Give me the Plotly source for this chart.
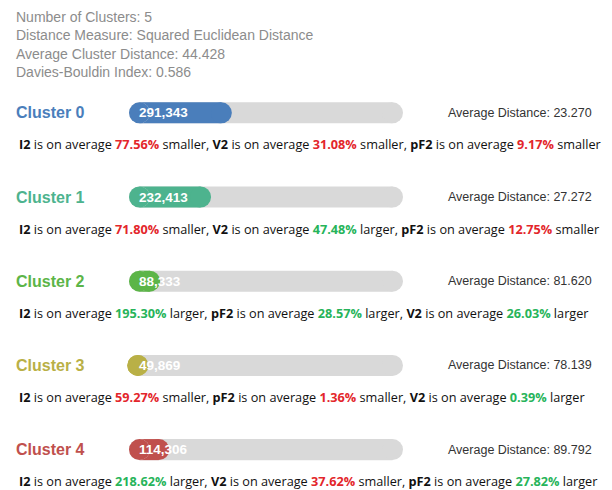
import plotly.graph_objects as go

# ---- data ----
summary_lines = [
    "Number of Clusters: 5",
    "Distance Measure: Squared Euclidean Distance",
    "Average Cluster Distance: 44.428",
    "Davies-Bouldin Index: 0.586",
]
cluster_names = ["Cluster 0", "Cluster 1", "Cluster 2", "Cluster 3", "Cluster 4"]
cluster_sizes = [291343, 232413, 88333, 49869, 114306]
avg_distances = ["23.270", "27.272", "81.620", "78.139", "89.792"]
cluster_colors = ["#4a7ebb", "#4db38e", "#5cb548", "#b9b046", "#c0504d"]

feat_names = [
    ["I2", "V2", "pF2"],
    ["I2", "V2", "pF2"],
    ["I2", "pF2", "V2"],
    ["I2", "pF2", "V2"],
    ["I2", "V2", "pF2"],
]
feat_pcts = [
    ["77.56", "31.08", "9.17"],
    ["71.80", "47.48", "12.75"],
    ["195.30", "28.57", "26.03"],
    ["59.27", "1.36", "0.39"],
    ["218.62", "37.62", "27.82"],
]
feat_dirs = [
    ["smaller", "smaller", "smaller"],
    ["smaller", "larger", "smaller"],
    ["larger", "larger", "larger"],
    ["smaller", "smaller", "larger"],
    ["larger", "smaller", "larger"],
]

total = sum(cluster_sizes)
rows = list(range(len(cluster_names)))

RED = "#e3262b"
GREEN = "#27b45a"
TRACK = "#d9d9d9"

# geometry of the track (pixels) used to convert the cap radius into data units
TRACK_X0, TRACK_X1 = 129, 403
BAR_H = 21
rd = (BAR_H / 2) * total / (TRACK_X1 - TRACK_X0)   # cap radius in data units

fig = go.Figure()

# grey track: body + round caps
fig.add_trace(go.Bar(
    y=rows, x=[total - 2 * rd] * len(rows), base=[rd] * len(rows), orientation="h",
    marker=dict(color=TRACK, line=dict(width=0)),
    width=0.25, hoverinfo="skip", showlegend=False,
))
# coloured fill body
fill_len = [max(v - 2 * rd, 0) for v in cluster_sizes]
fig.add_trace(go.Bar(
    y=rows, x=fill_len, base=[rd] * len(rows), orientation="h",
    marker=dict(color=cluster_colors, line=dict(width=0)),
    width=0.25, hoverinfo="skip", showlegend=False,
))
fig.add_trace(go.Scatter(
    x=[rd] * len(rows) + [total - rd] * len(rows), y=rows + rows, mode="markers",
    marker=dict(size=BAR_H, color=TRACK, line=dict(width=0)),
    hoverinfo="skip", showlegend=False, cliponaxis=False,
))
left_c = [min(rd, v / 2) for v in cluster_sizes]
right_c = [max(v - rd, v / 2) for v in cluster_sizes]
fig.add_trace(go.Scatter(
    x=left_c + right_c, y=rows + rows, mode="markers",
    marker=dict(size=BAR_H, color=cluster_colors + cluster_colors, line=dict(width=0)),
    hoverinfo="skip", showlegend=False, cliponaxis=False,
))

ann = []
# summary header
for i, line in enumerate(summary_lines):
    ann.append(dict(
        x=14 / 612, xref="paper", xanchor="left",
        y=1 - (17 + 18.3 * i) / 490, yref="paper", yanchor="middle",
        text=line, showarrow=False,
        font=dict(family="Arial, Liberation Sans", size=14, color="#8c8c8c"),
    ))

for i in rows:
    ann.append(dict(
        x=14 / 612, xref="paper", xanchor="left",
        y=i, yref="y", yanchor="middle",
        text="<b>%s</b>" % cluster_names[i], showarrow=False,
        font=dict(family="Arial, Liberation Sans", size=16, color=cluster_colors[i]),
    ))
    ann.append(dict(
        x=0, xref="x", xanchor="left", xshift=8,
        y=i, yref="y", yanchor="middle",
        text="<b>{:,}</b>".format(cluster_sizes[i]), showarrow=False,
        font=dict(family="Arial, Liberation Sans", size=13.5, color="white"),
    ))
    ann.append(dict(
        x=446 / 612, xref="paper", xanchor="left",
        y=i, yref="y", yanchor="middle",
        text="Average Distance: %s" % avg_distances[i], showarrow=False,
        font=dict(family="Arial, Liberation Sans", size=12.5, color="#333333"),
    ))
    parts = []
    for f, p, d in zip(feat_names[i], feat_pcts[i], feat_dirs[i]):
        col = RED if d == "smaller" else GREEN
        parts.append("<b>%s</b> is on average <b><span style='color:%s'>%s%%</span></b> %s"
                     % (f, col, p, d))
    ann.append(dict(
        x=17 / 612, xref="paper", xanchor="left",
        y=i, yref="y", yanchor="middle", yshift=-31.5,
        text=", ".join(parts), showarrow=False,
        font=dict(family="Open Sans", size=12.7, color="#111111"),
    ))

spacing = 84.2
top_px = 112.8
r_top = -top_px / spacing
r_bottom = r_top + 490 / spacing

fig.update_layout(
    width=612, height=490,
    margin=dict(l=0, r=0, t=0, b=0),
    paper_bgcolor="white", plot_bgcolor="white",
    barmode="overlay",
    xaxis=dict(domain=[TRACK_X0 / 612, TRACK_X1 / 612], range=[0, total],
               showgrid=False, zeroline=False, showticklabels=False, fixedrange=True),
    yaxis=dict(domain=[0, 1], range=[r_bottom, r_top],
               showgrid=False, zeroline=False, showticklabels=False, fixedrange=True),
    annotations=ann,
    showlegend=False,
)

fig.write_html(
    "out.html",
    config={"displayModeBar": False},
    post_script="document.body.style.margin='0';document.body.style.padding='0';",
)
